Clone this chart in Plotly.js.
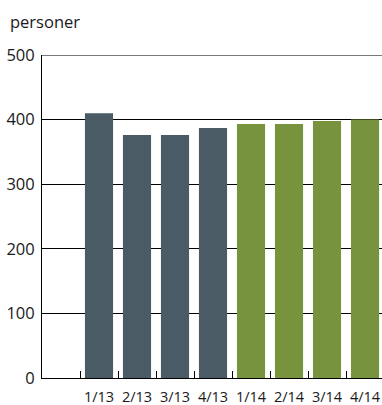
<!DOCTYPE html>
<html>
<head>
<meta charset="utf-8">
<script src="https://cdn.plot.ly/plotly-3.0.1.min.js"></script>
<style>
  html, body { margin: 0; padding: 0; background: #fff; }
  #chart { width: 382px; height: 405px; }
</style>
</head>
<body>
<div id="chart"></div>
<script>
// Quarterly figures, 2013 and 2014
const quarters = ['1/13', '2/13', '3/13', '4/13', '1/14', '2/14', '3/14', '4/14'];
const values2013 = [410, 376, 376, 387];
const values2014 = [393, 393, 398, 400];
const yTicks = [0, 100, 200, 300, 400, 500];
const unitLabel = 'personer';

const FONT = '"Open Sans", "Noto Sans", sans-serif';

// Slot 0 on the category axis is left empty; quarters sit at 1..8
const pos2013 = values2013.map((_, i) => i + 1);
const pos2014 = values2014.map((_, i) => i + 1 + values2013.length);
const boundaries = quarters.map((_, i) => i + 0.5);
const xRange = [-0.5, 8.447];

const traces = [
  { type: 'bar', x: pos2013, y: values2013, marker: { color: '#4B5B66' }, hoverinfo: 'skip' },
  { type: 'bar', x: pos2014, y: values2014, marker: { color: '#77933E' }, hoverinfo: 'skip' },
  // invisible trace carrying the boundary tick axis
  { type: 'scatter', x: [0], y: [0], xaxis: 'x2', mode: 'markers',
    marker: { opacity: 0 }, hoverinfo: 'skip', showlegend: false }
];

const layout = {
  width: 382, height: 405,
  margin: { l: 42, r: 0, t: 55, b: 27 },
  paper_bgcolor: '#fff', plot_bgcolor: '#fff',
  showlegend: false,
  barmode: 'overlay',
  bargap: 0.26,
  font: { family: FONT, color: '#1a1a1a' },
  xaxis: {
    range: xRange,
    tickvals: pos2013.concat(pos2014),
    ticktext: quarters,
    ticks: '',
    showgrid: false,
    zeroline: false,
    showline: true, linecolor: '#000', linewidth: 1,
    tickfont: { size: 14.5, family: FONT, color: '#1a1a1a' },
    ticklabelstandoff: 6,
    fixedrange: true
  },
  xaxis2: {
    overlaying: 'x', anchor: 'y', side: 'bottom',
    range: xRange,
    tickvals: boundaries,
    ticks: 'inside', ticklen: 7, tickcolor: '#000', tickwidth: 1,
    showticklabels: false, showgrid: false, zeroline: false, showline: false,
    fixedrange: true
  },
  yaxis: {
    range: [0, 500],
    tickvals: yTicks,
    ticks: '',
    showgrid: true, gridcolor: '#000', gridwidth: 1,
    zeroline: false,
    showline: true, linecolor: '#000', linewidth: 1,
    tickfont: { size: 16.5, family: FONT, color: '#1a1a1a' },
    ticklabelstandoff: 3,
    fixedrange: true
  },
  shapes: [
    { type: 'line', xref: 'paper', yref: 'y', x0: 0, x1: 1, y0: 500, y1: 500,
      line: { color: '#7a7a7a', width: 2 } }
  ],
  annotations: [
    { text: unitLabel, xref: 'paper', yref: 'paper', x: -34 / 340, y: 1, yshift: 34,
      xanchor: 'left', yanchor: 'middle', showarrow: false,
      font: { size: 16.5, family: FONT, color: '#1a1a1a' } }
  ]
};

Plotly.newPlot('chart', traces, layout, { displayModeBar: false, staticPlot: true });
</script>
</body>
</html>
